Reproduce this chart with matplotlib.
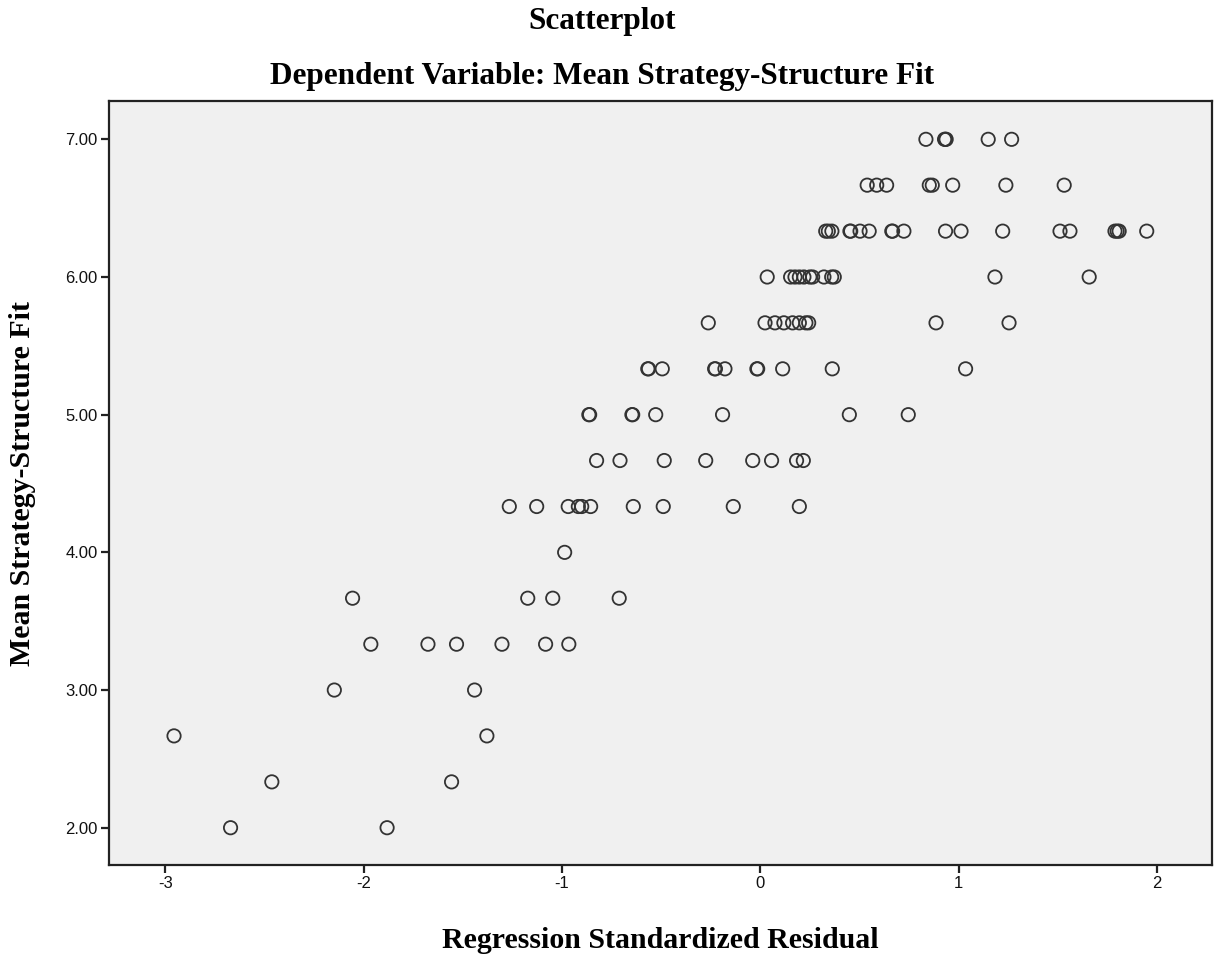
import matplotlib
matplotlib.use("Agg")
import matplotlib.pyplot as plt

# Standardized regression residuals (x) against observed mean fit (y)
std_residual = [
    # 7.00
    0.834, 0.928, 0.932, 0.936, 1.148, 1.266,
    # 6.67
    0.538, 0.586, 0.636, 0.851, 0.866, 0.969, 1.237, 1.531,
    # 6.33
    0.329, 0.342, 0.360, 0.451, 0.455, 0.502, 0.548, 0.662, 0.666, 0.723,
    0.933, 1.011, 1.221, 1.510, 1.560, 1.787, 1.798, 1.808, 1.947,
    # 6.00
    0.034, 0.152, 0.174, 0.196, 0.219, 0.249, 0.263, 0.320, 0.359, 0.372,
    1.182, 1.657,
    # 5.67
    -0.263, 0.023, 0.073, 0.118, 0.162, 0.196, 0.229, 0.243, 0.885, 1.253,
    # 5.33
    -0.568, -0.564, -0.495, -0.231, -0.227, -0.179, -0.018, -0.014, 0.112,
    0.362, 1.034,
    # 5.00
    -0.865, -0.861, -0.648, -0.644, -0.528, -0.191, 0.448, 0.745,
    # 4.67
    -0.826, -0.708, -0.485, -0.276, -0.039, 0.056, 0.182, 0.216,
    # 4.33
    -1.266, -1.128, -0.969, -0.918, -0.901, -0.856, -0.641, -0.490,
    -0.137, 0.196,
    # 4.00
    -0.987,
    # 3.67
    -2.056, -1.173, -1.047, -0.712,
    # 3.33
    -1.964, -1.676, -1.532, -1.303, -1.083, -0.966,
    # 3.00
    -2.148, -1.441,
    # 2.67
    -2.956, -1.379,
    # 2.33
    -2.463, -1.557,
    # 2.00
    -2.671, -1.882,
]

mean_fit = (
    [7.000] * 6
    + [6.667] * 8
    + [6.333] * 19
    + [6.000] * 12
    + [5.667] * 10
    + [5.333] * 11
    + [5.000] * 8
    + [4.667] * 8
    + [4.333] * 10
    + [4.000] * 1
    + [3.667] * 4
    + [3.333] * 6
    + [3.000] * 2
    + [2.667] * 2
    + [2.333] * 2
    + [2.000] * 2
)

x_ticks = [-3, -2, -1, 0, 1, 2]
y_ticks = [2.0, 3.0, 4.0, 5.0, 6.0, 7.0]

title_text = "Scatterplot"
subtitle_text = "Dependent Variable: Mean Strategy-Structure Fit"
x_label = "Regression Standardized Residual"
y_label = "Mean Strategy-Structure Fit"

fig = plt.figure(figsize=(12.16, 9.55), dpi=100, facecolor="white")
ax = fig.add_axes([0.0896, 0.0942, 0.9071, 0.8000])
ax.set_facecolor("#f0f0f0")

ax.scatter(std_residual, mean_fit, s=92, facecolors="none",
           edgecolors="#333333", linewidths=1.3, zorder=3)

ax.set_xlim(-3.284, 2.276)
ax.set_ylim(1.729, 7.278)
ax.set_xticks(x_ticks)
ax.set_xticklabels([str(t) for t in x_ticks])
ax.set_yticks(y_ticks)
ax.set_yticklabels([f"{t:.2f}" for t in y_ticks])

for side in ("left", "bottom", "right", "top"):
    ax.spines[side].set_color("#222222")
    ax.spines[side].set_linewidth(1.6)

ax.tick_params(axis="both", direction="out", length=6, width=1.6,
               color="#222222", labelsize=12, labelcolor="#111111", pad=2)
for lbl in ax.get_xticklabels() + ax.get_yticklabels():
    lbl.set_fontfamily("Liberation Sans")

serif = "Liberation Serif"
fig.text(0.495, 0.977, title_text, ha="center", va="center",
         fontsize=22.5, fontweight="bold", family=serif)
fig.text(0.495, 0.920, subtitle_text, ha="center", va="center",
         fontsize=22.5, fontweight="bold", family=serif)
fig.text(0.5432, 0.0157, x_label, ha="center", va="center",
         fontsize=21.5, fontweight="bold", family=serif)
fig.text(0.0181, 0.4932, y_label, ha="center", va="center",
         rotation=90, fontsize=21.5, fontweight="bold", family=serif)

fig.savefig("out.png", dpi=100, facecolor="white")
